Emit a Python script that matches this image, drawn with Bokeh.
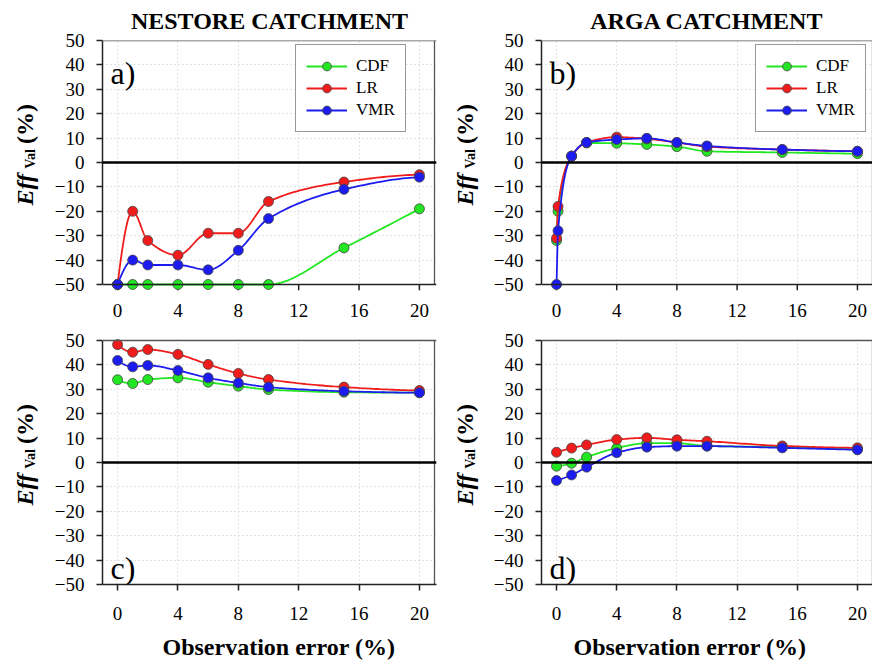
import numpy as np
from bokeh.plotting import figure
from bokeh.layouts import column, row
from bokeh.models import Range1d, FixedTicker, LinearAxis, Span, Label, Title
from bokeh.embed import file_html
from bokeh.resources import INLINE

FONT = "Liberation Serif"

# ---------------- data ----------------
obs_error = [0, 1, 2, 4, 6, 8, 10, 15, 20]
obs_error_arga_top = [0, 0.1, 1, 2, 4, 6, 8, 10, 15, 20]

series_names = ["CDF", "LR", "VMR"]
series_colors = ["#22e622", "#f01c1c", "#1c1cf0"]

nestore_top_cdf = [-50, -50, -50, -50, -50, -50, -50, -35, -19]
nestore_top_lr = [-50, -20, -32, -38, -29, -29, -16, -8, -5]
nestore_top_vmr = [-50, -40, -42, -42, -44, -36, -23, -11, -6]

arga_top_cdf = [-32, -20, 2.6, 8.0, 7.9, 7.4, 6.5, 4.6, 4.1, 3.6]
arga_top_lr = [-31, -18, 2.6, 8.2, 10.4, 9.7, 8.2, 6.5, 5.3, 4.6]
arga_top_vmr = [-50, -28, 2.6, 8.2, 9.4, 9.9, 8.2, 6.8, 5.3, 4.6]

nestore_bot_cdf = [33.9, 32.4, 34.0, 34.7, 32.9, 31.3, 29.9, 28.8, 28.6]
nestore_bot_lr = [48.3, 45.2, 46.3, 44.3, 40.2, 36.5, 34.0, 30.9, 29.5]
nestore_bot_vmr = [41.8, 39.2, 39.8, 37.7, 34.7, 32.6, 30.9, 29.2, 28.6]

arga_bot_cdf = [-1.5, -0.3, 2.2, 5.9, 7.9, 7.9, 6.8, 6.3, 5.3]
arga_bot_lr = [4.2, 5.9, 7.2, 9.4, 10.1, 9.3, 8.7, 6.8, 6.0]
arga_bot_vmr = [-7.4, -5.1, -1.9, 4.0, 6.3, 6.7, 6.7, 6.0, 5.2]

x_ticks = [0, 4, 8, 12, 16, 20]
y_ticks = [-50, -40, -30, -20, -10, 0, 10, 20, 30, 40, 50]
X_MIN, X_MAX = -1, 21
Y_MIN, Y_MAX = -50, 50


def pchip(xs, ys, n=24):
    """Monotone cubic (PCHIP) path through the data points, used only to draw the line smoothly."""
    x = np.asarray(xs, float)
    y = np.asarray(ys, float)
    h = np.diff(x)
    d = np.diff(y) / h
    m = np.zeros_like(y)
    for k in range(1, len(x) - 1):
        if d[k - 1] * d[k] <= 0:
            m[k] = 0.0
        else:
            w1 = 2 * h[k] + h[k - 1]
            w2 = h[k] + 2 * h[k - 1]
            m[k] = (w1 + w2) / (w1 / d[k - 1] + w2 / d[k])

    def end(h0, h1, d0, d1):
        mm = ((2 * h0 + h1) * d0 - h0 * d1) / (h0 + h1)
        if np.sign(mm) != np.sign(d0):
            mm = 0.0
        elif np.sign(d0) != np.sign(d1) and abs(mm) > abs(3 * d0):
            mm = 3 * d0
        return mm

    m[0] = end(h[0], h[1], d[0], d[1])
    m[-1] = end(h[-1], h[-2], d[-1], d[-2])
    px, py = [], []
    for k in range(len(x) - 1):
        t = np.linspace(0, 1, n, endpoint=(k == len(x) - 2))
        h00 = 2 * t**3 - 3 * t**2 + 1
        h10 = t**3 - 2 * t**2 + t
        h01 = -2 * t**3 + 3 * t**2
        h11 = t**3 - t**2
        px.extend(x[k] + t * h[k])
        py.extend(h00 * y[k] + h10 * h[k] * m[k] + h01 * y[k + 1] + h11 * h[k] * m[k + 1])
    return px, py


PPU = 244 / 100.0   # pixels per y unit
PPX = 332 / 22.0    # pixels per x unit


def geometry(top):
    ext_bot = 6 if top else 0
    ext_top = 0 if top else 2
    frame_h = 244 + ext_bot + ext_top
    mb_top = 40 if top else 44
    mb_bottom = 4 if top else 84
    yr = (Y_MIN - ext_bot / PPU, Y_MAX + ext_top / PPU)
    return frame_h, mb_top, mb_bottom, yr


def style_axis(ax):
    ax.axis_line_color = "#222222"
    ax.axis_line_width = 1.5
    ax.major_tick_line_color = "#222222"
    ax.major_tick_line_width = 1.5
    ax.major_tick_in = 0
    ax.major_tick_out = 6
    ax.minor_tick_line_color = None
    ax.major_label_text_font = FONT
    ax.major_label_text_font_size = "19px"
    ax.major_label_text_color = "black"


def make_ylabel(top, width, cx):
    """Narrow strip holding the rotated 'Eff_Val (%)' axis title."""
    frame_h, mb_top, mb_bottom, yr = geometry(top)
    f = figure(width=width, height=mb_top + frame_h + mb_bottom,
               x_range=Range1d(0, width), y_range=Range1d(*yr),
               x_axis_type=None, y_axis_type=None,
               output_backend="svg", toolbar_location=None,
               min_border_left=0, min_border_right=0,
               min_border_top=mb_top, min_border_bottom=mb_bottom)
    f.outline_line_color = None
    f.background_fill_color = "white"
    f.border_fill_color = "white"
    common = dict(angle=np.pi / 2, text_font=FONT, text_align="left",
                  text_baseline="middle", text_color="black")
    f.add_layout(Label(x=cx, y=-17.6, text="Eff", text_font_size="24px",
                       text_font_style="bold italic", **common))
    f.add_layout(Label(x=cx + 6, y=-2.6, text="Val", text_font_size="14px",
                       text_font_style="bold", **common))
    f.add_layout(Label(x=cx, y=7.6, text="(%)", text_font_size="24px",
                       text_font_style="bold", **common))
    return f


def make_panel(xs, ys_list, *, left, top, letter, title=None, legend_xy=None,
               xlabel=None, xlabel_offset=0, upper_labels=False):
    frame_h, mb_top, mb_bottom, yr = geometry(top)
    extra_r = 2 if left else 0
    fw = 332 + extra_r
    mb_left = 57 if left else 50
    mb_right = 14 if left else 0
    p = figure(
        width=mb_left + fw + mb_right,
        height=mb_top + frame_h + mb_bottom,
        x_range=Range1d(X_MIN, X_MAX + extra_r / PPX),
        y_range=Range1d(*yr),
        x_axis_location=None if top else "below",
        output_backend="svg",
        toolbar_location=None,
        min_border_left=mb_left,
        min_border_right=mb_right,
        min_border_top=mb_top,
        min_border_bottom=mb_bottom,
        title=title,
    )
    p.outline_line_color = None
    p.background_fill_color = "white"
    p.border_fill_color = "white"

    if title:
        p.title.text_font = FONT
        p.title.text_font_size = "24px"
        p.title.text_font_style = "bold"
        p.title.align = "center"
        p.title.text_color = "black"
        p.title.standoff = 10
        p.title.vertical_align = "top"

    yax = p.left[0]
    style_axis(yax)
    yax.ticker = FixedTicker(ticks=y_ticks)
    yax.bounds = (Y_MIN, Y_MAX)
    yax.major_label_standoff = 12

    if top:
        # bottom edge of the box with its ticks (the tick labels are drawn by the panel below)
        p.add_layout(Span(location=Y_MIN, dimension="width", line_color="#222222", line_width=1.5))
        p.segment(x0=x_ticks, y0=[Y_MIN] * len(x_ticks), x1=x_ticks,
                  y1=[Y_MIN - 6 / PPU] * len(x_ticks), line_color="#222222", line_width=1.5)
    else:
        xax = p.below[0]
        style_axis(xax)
        xax.ticker = FixedTicker(ticks=x_ticks)
        xax.major_label_standoff = 16

    if upper_labels:
        # tick labels of the x axis of the panel above (same x scale)
        up = LinearAxis(ticker=FixedTicker(ticks=x_ticks), axis_line_color=None,
                        major_tick_line_color=None, minor_tick_line_color=None,
                        major_tick_out=0, major_tick_in=0, major_label_standoff=22,
                        major_label_text_font=FONT, major_label_text_font_size="19px",
                        major_label_text_color="black")
        p.add_layout(up, "above")

    if xlabel:
        p.add_layout(Title(text=xlabel, align="left", offset=xlabel_offset,
                           text_font=FONT, text_font_size="24px", text_font_style="bold",
                           text_color="black", standoff=18), "below")

    # box edges (top and right)
    p.add_layout(Span(location=Y_MAX, dimension="width", line_color="#555555", line_width=1.3))
    p.segment(x0=[X_MAX], y0=[Y_MIN], x1=[X_MAX], y1=[Y_MAX], line_color="#555555", line_width=1.3)

    # grid
    p.xgrid.ticker = FixedTicker(ticks=x_ticks)
    p.ygrid.ticker = FixedTicker(ticks=y_ticks)
    for g in (p.xgrid[0], p.ygrid[0]):
        g.grid_line_color = "#c8c8c8"
        g.grid_line_dash = "1 3"
        g.grid_line_width = 1

    # zero line
    p.add_layout(Span(location=0, dimension="width", line_color="black", line_width=2.6))

    # series
    for name, ys, color in zip(series_names, ys_list, series_colors):
        sx, sy = pchip(xs, ys)
        kw = {"legend_label": name} if legend_xy else {}
        p.line(sx, sy, line_color=color, line_width=1.8, **kw)
        p.scatter(xs, ys, size=10, fill_color=color, line_color="#444444",
                  line_width=0.8, **kw)

    if legend_xy:
        lg = p.legend[0]
        lg.location = legend_xy
        lg.label_text_font = FONT
        lg.label_text_font_size = "17px"
        lg.label_text_color = "black"
        lg.border_line_color = "#333333"
        lg.border_line_width = 1.5
        lg.background_fill_alpha = 1
        lg.padding = 10
        lg.spacing = 0
        lg.margin = 0
        lg.glyph_width = 41
        lg.glyph_height = 22
        lg.label_height = 22
        lg.label_standoff = 9

    # panel letter
    ly = 36.8 if top else -43.2
    p.add_layout(Label(x=8, x_units="screen", y=ly, y_units="data", text=letter,
                       text_font=FONT, text_font_size="32px", text_align="left",
                       text_baseline="alphabetic", text_color="black"))
    return p


la = make_ylabel(True, 45, 24)
pa = make_panel(obs_error, [nestore_top_cdf, nestore_top_lr, nestore_top_vmr],
                left=True, top=True, letter="a)", title="NESTORE CATCHMENT", legend_xy=(193, 158))
lb = make_ylabel(True, 40, 14)
pb = make_panel(obs_error_arga_top, [arga_top_cdf, arga_top_lr, arga_top_vmr],
                left=False, top=True, letter="b)", title="ARGA CATCHMENT", legend_xy=(214, 158))
lc = make_ylabel(False, 45, 24)
pc = make_panel(obs_error, [nestore_bot_cdf, nestore_bot_lr, nestore_bot_vmr],
                left=True, top=False, letter="c)", xlabel="Observation error (%)",
                xlabel_offset=60, upper_labels=True)
ld = make_ylabel(False, 40, 14)
pd_ = make_panel(obs_error, [arga_bot_cdf, arga_bot_lr, arga_bot_vmr],
                 left=False, top=False, letter="d)", xlabel="Observation error (%)",
                 xlabel_offset=32, upper_labels=True)

layout = column(row(la, pa, lb, pb), row(lc, pc, ld, pd_))
open("out.html", "w").write(file_html(layout, INLINE))
